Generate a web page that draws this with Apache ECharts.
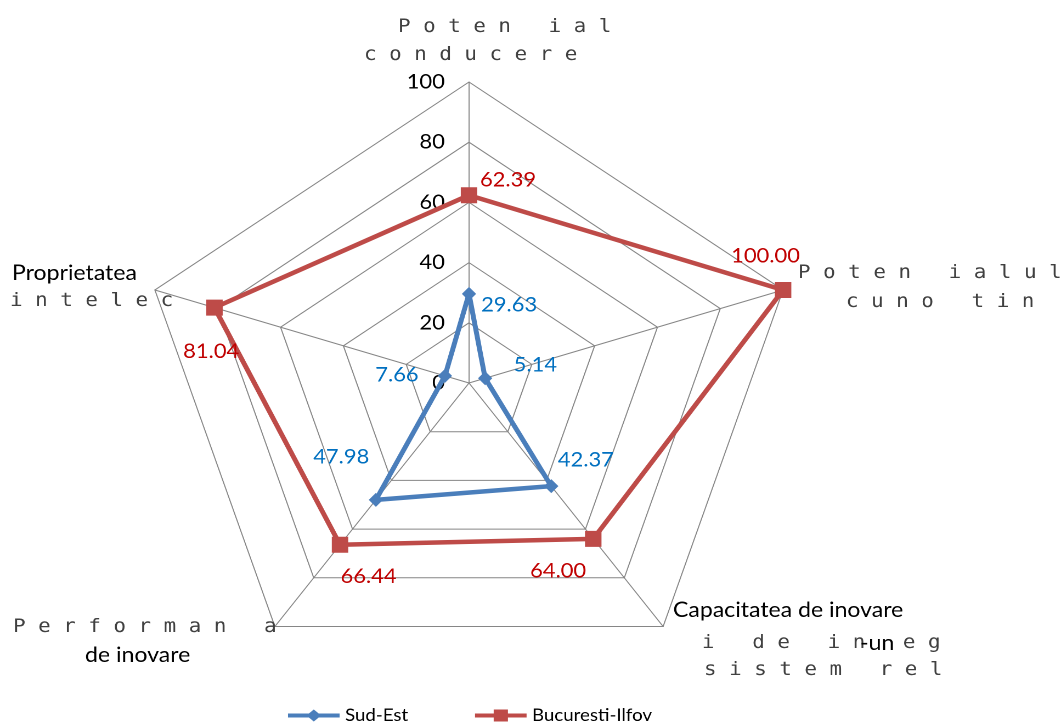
<!DOCTYPE html>
<html><head><meta charset="utf-8">
<script src="https://cdn.jsdelivr.net/npm/echarts@6/dist/echarts.min.js"></script>
<style>
html,body{margin:0;padding:0;background:#fff;overflow:hidden;width:1061px;height:726px}
#c{position:absolute;left:0;top:0;width:967px;height:726px;transform:scaleX(1.0972);transform-origin:0 0}
</style>
</head><body><div id="c"></div>
<script>
// Categories, clockwise from the top (as drawn in the reference)
const categories = ['Potential conducere', 'Potentialul cunostinte', 'Capacitatea de inovare', 'Performanta de inovare', 'Proprietatea intelectuala'];
const seriesNames = ['Sud-Est', 'Bucuresti-Ilfov'];
const sudEst = [29.63, 5.14, 42.37, 47.98, 7.66];
const bucurestiIlfov = [62.39, 100.00, 64.00, 66.44, 81.04];
const axisMin = 0, axisMax = 100, axisSplits = 5;
// Category label lines as they appear in the picture
const nameTop = ['P o t e n   i a l', 'c o n d u c e r e'];
const nameRight = ['P o t e n   i a l u l', 'c u n o   t i n'];
const nameBottomRight = ['Capacitatea de inovare', 'i   d e   i n   e g', '-un', 's i s t e m   r e l'];
const nameBottomLeft = ['P e r f o r m a n   a', 'de inovare'];
const nameLeft = ['Proprietatea', 'i n t e l e c'];

const S = 1.0972;              // horizontal stretch of the plot
const sx = v => v / S;
const ccw = a => [a[0]].concat(a.slice(1).reverse()); // ECharts radar goes counter-clockwise

const blue = '#4A7EBB', red = '#BE4B48';
const blueText = '#0070C0', redText = '#C00000';

const blueLabelCfg = [
  {pos: 'right', dx: 5, dy: 11},
  {pos: 'right', dx: 20, dy: -13},
  {pos: 'right', dx: 0, dy: -26},
  {pos: 'left', dx: 0, dy: -43},
  {pos: 'left', dx: -18, dy: -1}
];
const redLabelCfg = [
  {pos: 'right', dx: 4, dy: -15},
  {pos: 'top', dx: -16, dy: -18},
  {pos: 'bottom', dx: -32, dy: 16},
  {pos: 'bottom', dx: 26, dy: 16},
  {pos: 'bottom', dx: -3, dy: 28}
];

function labelSeries(name, vals, cfg, color) {
  return {
    type: 'radar', name: name + ' values', z: 5, silent: true,
    symbol: 'circle', symbolSize: 2,
    itemStyle: {color: 'rgba(0,0,0,0)'},
    lineStyle: {width: 0, opacity: 0},
    areaStyle: null,
    emphasis: {disabled: true},
    data: cfg.map((c, k) => ({
      value: ccw(vals),
      label: {
        show: true, position: c.pos, offset: [c.dx, c.dy], color: color,
        fontFamily: 'Lato', fontSize: 20,
        formatter: p => (p.value === vals[k] ? vals[k].toFixed(2) : '')
      }
    }))
  };
}

const mono = '19px "DejaVu Sans Mono"';
const sans = '21px Lato';
const grey = '#404040';
function txt(str, x, y, font, fill) {
  return {type: 'text', x: sx(x), y: y, silent: true, z: 10,
    style: {text: str, font: font, fill: fill, align: 'left', verticalAlign: 'middle'}};
}

const blueIcon = 'path://M0,4 L19,4 L23.5,0 L28,4 L47,4 L47,8 L28,8 L23.5,12 L19,8 L0,8 Z';
const redIcon = 'path://M0,4 L17,4 L17,0 L30,0 L30,4 L47,4 L47,8 L30,8 L30,12 L17,12 L17,8 L0,8 Z';
const legendCommon = {
  orient: 'horizontal', top: 707, padding: 0, itemWidth: 47, itemHeight: 12,
  symbolKeepAspect: false, selectedMode: false, itemGap: 5,
  textStyle: {fontFamily: 'Lato', fontSize: 17, color: '#000'}
};

const chart = echarts.init(document.getElementById('c'), null, {devicePixelRatio: 2});
chart.setOption({
  animation: false,
  backgroundColor: '#fff',
  legend: [
    Object.assign({}, legendCommon, {left: sx(288), data: [{name: seriesNames[0], icon: blueIcon, itemStyle: {color: blue, borderWidth: 0}}]}),
    Object.assign({}, legendCommon, {left: sx(475), data: [{name: seriesNames[1], icon: redIcon, itemStyle: {color: red, borderWidth: 0}}]})
  ],
  radar: {
    center: [sx(469), 383], radius: 301, startAngle: 90,
    shape: 'polygon', splitNumber: axisSplits,
    indicator: ccw(categories).map((n, i) => i === 0
      ? {name: n, min: axisMin, max: axisMax,
         axisLabel: {show: true, color: '#000', fontFamily: 'Lato', fontSize: 20, margin: 22}}
      : {name: n, min: axisMin, max: axisMax}),
    axisName: {show: false},
    axisLine: {lineStyle: {color: '#868686', width: 1}},
    splitLine: {lineStyle: {color: '#868686', width: 1}},
    splitArea: {show: false},
    axisTick: {show: false},
    axisLabel: {show: false}
  },
  series: [
    {
      type: 'radar', name: seriesNames[0], z: 2,
      symbol: 'diamond', symbolSize: [13, 14],
      itemStyle: {color: blue},
      lineStyle: {color: blue, width: 4.5, join: 'round'},
      emphasis: {disabled: true},
      data: [{value: ccw(sudEst), name: seriesNames[0]}]
    },
    {
      type: 'radar', name: seriesNames[1], z: 3,
      symbol: 'rect', symbolSize: [15, 16],
      itemStyle: {color: red},
      lineStyle: {color: red, width: 4.5, join: 'round'},
      emphasis: {disabled: true},
      data: [{value: ccw(bucurestiIlfov), name: seriesNames[1]}]
    },
    labelSeries(seriesNames[0], sudEst, blueLabelCfg, blueText),
    labelSeries(seriesNames[1], bucurestiIlfov, redLabelCfg, redText)
  ],
  graphic: [
    txt(nameTop[0], 398, 27, mono, grey),
    txt(nameTop[1], 364, 55, mono, grey),
    txt(nameRight[0], 798, 273, mono, grey),
    txt(nameRight[1], 846, 302, mono, grey),
    txt(nameLeft[0], 12, 273, sans, '#000'),
    txt(nameLeft[1], 10, 301, mono, grey),
    txt(nameBottomLeft[0], 13, 627, mono, grey),
    txt(nameBottomLeft[1], 85, 655, sans, '#000'),
    txt(nameBottomRight[0], 673, 610, sans, '#000'),
    txt(nameBottomRight[1], 702, 643, mono, grey),
    txt(nameBottomRight[2], 860, 643, sans, '#000'),
    txt(nameBottomRight[3], 704, 670, mono, grey)
  ]
});
</script>
</body></html>
